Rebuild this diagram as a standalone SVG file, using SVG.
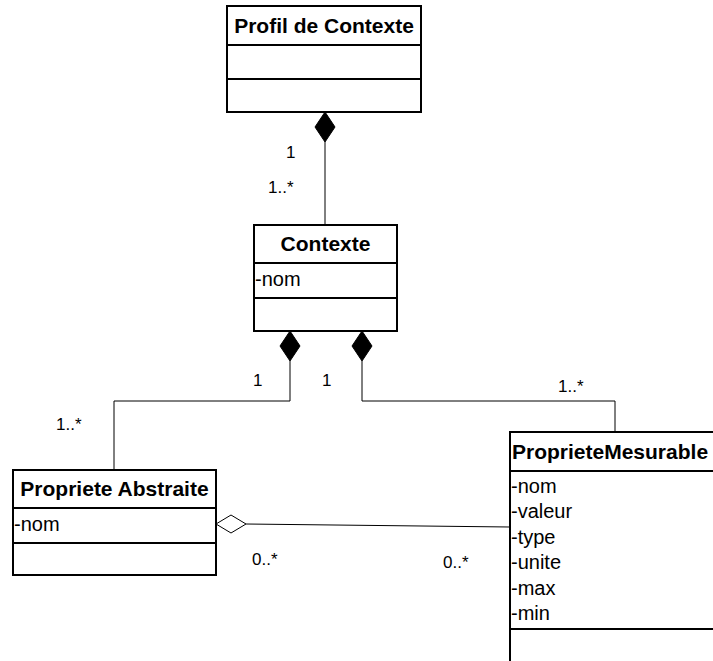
<svg xmlns="http://www.w3.org/2000/svg" width="713" height="661" viewBox="0 0 713 661">
<style>
.box{fill:#fff;stroke:#000;stroke-width:2}
.sep{stroke:#000;stroke-width:2}
.title{font-family:"Liberation Sans",Arial,sans-serif;font-weight:bold;font-size:21px;fill:#000}
.attr{font-family:"Liberation Sans",Arial,sans-serif;font-size:20px;fill:#000}
.lbl{font-family:"Liberation Sans",Arial,sans-serif;font-size:17px;fill:#000}
.conn{fill:none;stroke:#000;stroke-width:1}
.fd{fill:#000;stroke:#000;stroke-width:1}
.hd{fill:#fff;stroke:#000;stroke-width:1}
</style>
<rect width="713" height="661" fill="#fff"/>
<g id="connectors">
<line class="conn" x1="325" y1="142" x2="325" y2="225"/>
<polygon class="fd" points="325,112 335,127 325,142 315,127"/>
<polyline class="conn" points="290,361 290,401 114,401 114,470"/>
<polygon class="fd" points="290,331 300,346 290,361 280,346"/>
<polyline class="conn" points="362,361 362,401 615,401 615,432"/>
<polygon class="fd" points="362,331 372,346 362,361 352,346"/>
<line class="conn" x1="246" y1="524" x2="510" y2="527"/>
<polygon class="hd" points="216,524 231,515 246,524 231,533"/>
<text class="lbl" x="286" y="158">1</text>
<text class="lbl" x="268" y="193">1..*</text>
<text class="lbl" x="253" y="386">1</text>
<text class="lbl" x="322" y="386">1</text>
<text class="lbl" x="558" y="392">1..*</text>
<text class="lbl" x="56" y="430">1..*</text>
<text class="lbl" x="252" y="565">0..*</text>
<text class="lbl" x="443" y="568">0..*</text>
</g>
<g id="profil">
<rect class="box" x="227" y="6" width="194" height="106"/>
<line class="sep" x1="227" y1="45" x2="421" y2="45"/>
<line class="sep" x1="227" y1="79" x2="421" y2="79"/>
<text class="title" x="324" y="33" text-anchor="middle">Profil de Contexte</text>
</g>
<g id="contexte">
<rect class="box" x="254" y="225" width="143" height="106"/>
<line class="sep" x1="254" y1="263" x2="397" y2="263"/>
<line class="sep" x1="254" y1="298" x2="397" y2="298"/>
<text class="title" x="325.5" y="251" text-anchor="middle">Contexte</text>
<text class="attr" x="255" y="286">-nom</text>
</g>
<g id="abstraite">
<rect class="box" x="13" y="470" width="203" height="105"/>
<line class="sep" x1="13" y1="508" x2="216" y2="508"/>
<line class="sep" x1="13" y1="543" x2="216" y2="543"/>
<text class="title" x="114.5" y="496" text-anchor="middle">Propriete Abstraite</text>
<text class="attr" x="14" y="531">-nom</text>
</g>
<g id="mesurable">
<rect class="box" x="510" y="432" width="220" height="250"/>
<line class="sep" x1="510" y1="471" x2="730" y2="471"/>
<line class="sep" x1="510" y1="629" x2="730" y2="629"/>
<text class="title" x="512" y="459">ProprieteMesurable</text>
<text class="attr" x="511" y="493">-nom</text>
<text class="attr" x="511" y="518">-valeur</text>
<text class="attr" x="511" y="544">-type</text>
<text class="attr" x="511" y="569">-unite</text>
<text class="attr" x="511" y="595">-max</text>
<text class="attr" x="511" y="620">-min</text>
</g>
</svg>
